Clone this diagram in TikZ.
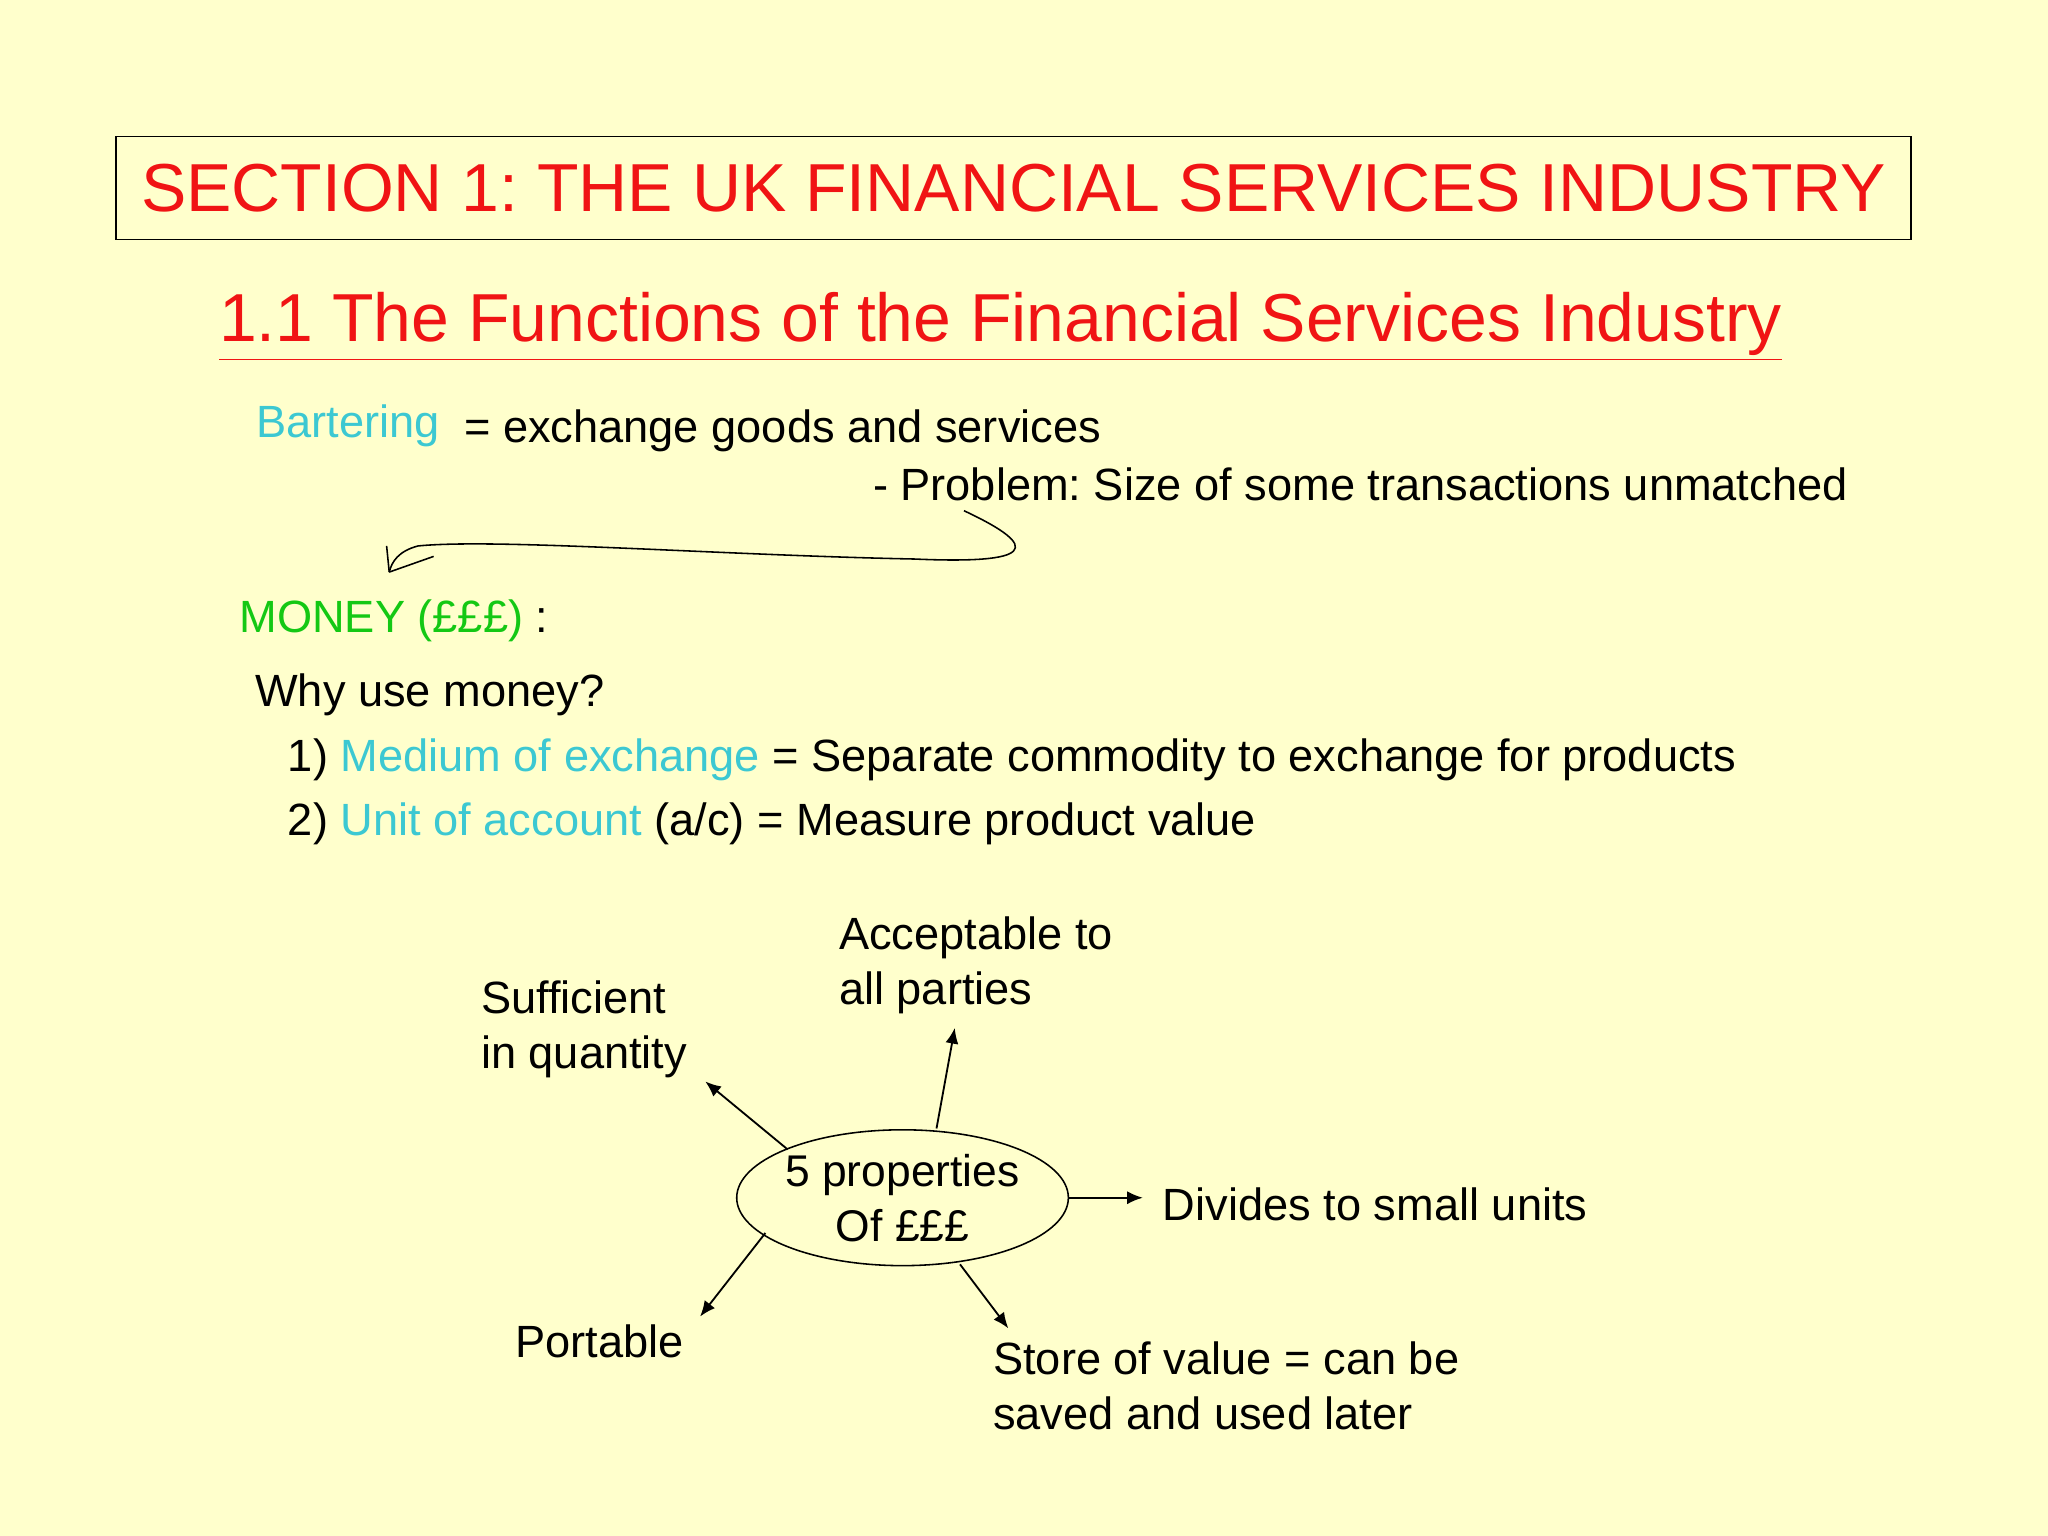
\documentclass[tikz,border=0pt]{standalone}
\usepackage{fontspec}
\setmainfont{Liberation Sans}
\frenchspacing
\usetikzlibrary{arrows.meta,shapes.geometric}
\definecolor{bg}{RGB}{255,255,204}
\definecolor{tred}{RGB}{240,20,20}
\definecolor{tcyan}{RGB}{60,200,210}
\definecolor{tgreen}{RGB}{20,200,20}
\tikzset{
  body/.style={anchor=west,inner sep=0pt,font=\fontsize{17.3}{21}\selectfont,align=left},
  arr/.style={-{Latex[length=6pt,width=5pt]},line width=0.7pt}
}
\begin{document}
\begin{tikzpicture}[x=0.5pt,y=-0.5pt]
\fill[bg] (0,0) rectangle (1568,1176);
\useasboundingbox (0,0) rectangle (1568,1176);
\node[draw,line width=0.6pt,minimum width=687pt,minimum height=39.5pt,inner sep=0pt,text=tred,font=\fontsize{26}{30}\selectfont] (title) at (776,144) {SECTION 1: THE UK FINANCIAL SERVICES INDUSTRY};
\node[text=tred,inner sep=0pt,font=\fontsize{26}{30}\selectfont] (sub) at (766,250) {\underline{1.1 The Functions of the Financial Services Industry}};
\node[body,text=tcyan] (bart) at (196,326) {Bartering};
\node[body] (exch) at (355,330) {= exchange goods and services};
\node[body] (prob) at (668,371) {- Problem: Size of some transactions unmatched};
\coordinate (cs) at (738,391);
\coordinate (ce) at (298,438);
\draw[line width=0.6pt] (cs) .. controls (800,420) and (790,432) .. (700,428)
  .. controls (550,425) and (380,412) .. (320,418) .. controls (305,422) and (300,430) .. (ce);
\draw[line width=0.6pt] (ce) -- (332,426);
\draw[line width=0.6pt] (ce) -- (296,418);
\node[body,text=tgreen] (money) at (183,475) {MONEY (£££) \textcolor{black}{:}};
\node[body] (why) at (195,532) {Why use money?};
\node[body] (m1) at (220,582) {1) \textcolor{tcyan}{Medium of exchange} = Separate commodity to exchange for products};
\node[body] (m2) at (220,631) {2) \textcolor{tcyan}{Unit of account} (a/c) = Measure product value};
\node[draw,ellipse,line width=0.6pt,minimum width=118pt,minimum height=52pt,inner sep=0pt,align=center,font=\fontsize{17}{21}\selectfont] (c) at (691,917) {5 properties\\Of £££};
\node[body] (acc) at (642,739) {Acceptable to\\all parties};
\node[body] (suf) at (368,788) {Sufficient\\in quantity};
\node[body] (div) at (890,922) {Divides to small units};
\node[body] (port) at (394,1027) {Portable};
\node[body] (store) at (760,1061) {Store of value = can be\\saved and used later};
\coordinate (a1) at (731,787);
\coordinate (a2) at (540,828);
\coordinate (a3) at (875,917);
\coordinate (a4) at (536,1008);
\coordinate (a5) at (772,1017);
\draw[arr] (717,864) -- (a1);
\draw[arr] (603,880) -- (a2);
\draw[arr] (c.east) -- (a3);
\draw[arr] (586,944) -- (a4);
\draw[arr] (735,968) -- (a5);
\end{tikzpicture}
\end{document}
